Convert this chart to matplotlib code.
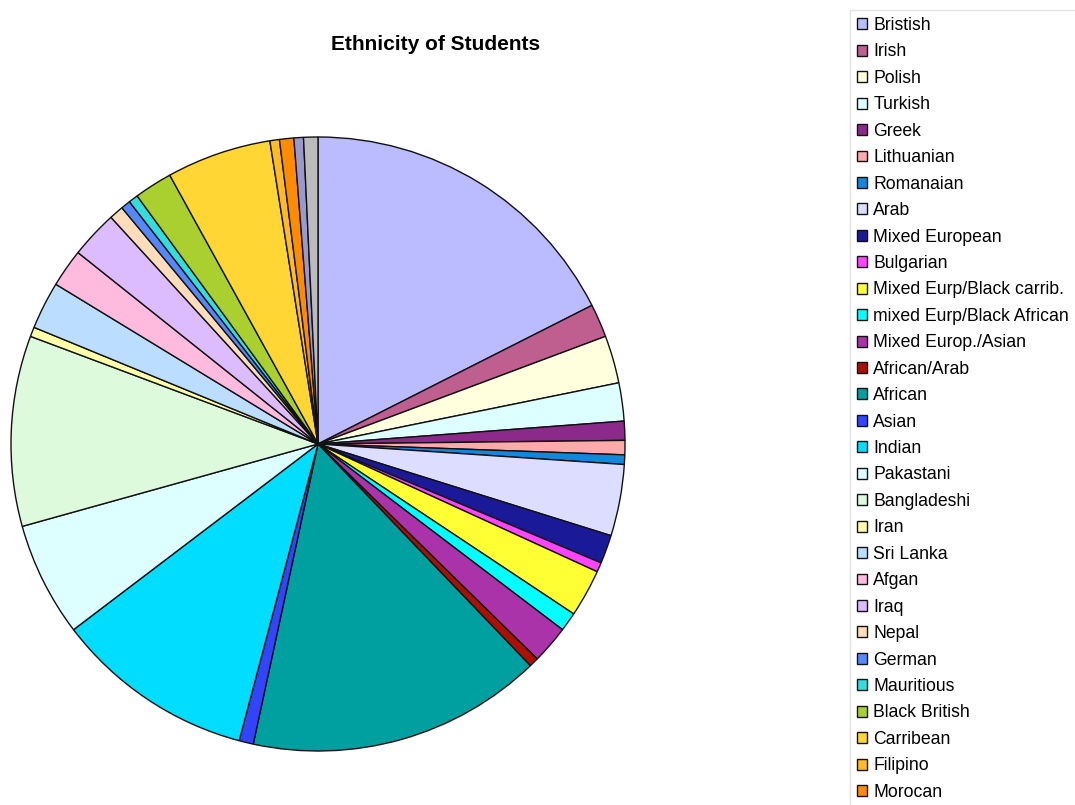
import matplotlib.pyplot as plt

plt.rcParams['font.family'] = ['Liberation Sans', 'DejaVu Sans']

# student counts per group (clockwise from 12 o'clock)
# the last two slices belong to groups whose legend rows are cut off in the original
groups = [
    'Bristish', 'Irish', 'Polish', 'Turkish', 'Greek', 'Lithuanian',
    'Romanaian', 'Arab', 'Mixed European', 'Bulgarian',
    'Mixed Eurp/Black carrib.', 'mixed Eurp/Black African',
    'Mixed Europ./Asian', 'African/Arab', 'African', 'Asian', 'Indian',
    'Pakastani', 'Bangladeshi', 'Iran', 'Sri Lanka', 'Afgan', 'Iraq',
    'Nepal', 'German', 'Mauritious', 'Black British', 'Carribean',
    'Filipino', 'Morocan', '', '',
]
students = [
    70, 7, 10, 8, 4, 3,
    2, 15, 6, 2,
    10, 4,
    8, 2, 62, 3, 42,
    24, 40, 2, 10, 8, 10,
    3, 2, 2, 8, 22,
    2, 3, 2, 3,
]
colours = [
    '#BBBBFF', '#BF5F8F', '#FFFFDD', '#DDFFFF', '#8B2A8B', '#FFAAAA',
    '#1188DD', '#DDDDFF', '#1A1A99', '#FF44FF',
    '#FFFF33', '#00FFFF',
    '#AA33AA', '#AA1100', '#00A0A0', '#3344FF', '#00DDFF',
    '#DDFFFF', '#DDFADD', '#FFFFAA', '#BBDDFF', '#FFBBDD', '#DDBBFF',
    '#FFDDBB', '#5588FF', '#33DDDD', '#AAD030', '#FFD633',
    '#FFBB22', '#FF8C00', '#9999CC', '#BBBBBB',
]

W, H = 1075, 805
fig = plt.figure(figsize=(W / 100, H / 100), dpi=100)

cx, cy, r = 318, 444, 307
ax = fig.add_axes([(cx - r) / W, (H - cy - r) / H, 2 * r / W, 2 * r / H])
wedges, _ = ax.pie(
    students, colors=colours, startangle=90, counterclock=False,
    wedgeprops=dict(edgecolor='#111111', linewidth=1.0, clip_on=False),
)
ax.set_xlim(-1, 1)
ax.set_ylim(-1, 1)
ax.set_aspect('equal')

fig.text(436 / W, 1 - 44 / H, 'Ethnicity of Students', ha='center', va='center',
         fontsize=15, fontweight='bold')

# only the rows that fit in the picture; the box runs off the bottom edge
shown = [i for i, g in enumerate(groups) if g]
leg = fig.legend(
    [wedges[i] for i in shown], [groups[i] for i in shown],
    loc='upper left', bbox_to_anchor=(850 / W, 1 - 10 / H),
    fontsize=12.7, frameon=True, fancybox=False, edgecolor='#DDDDDD',
    handlelength=0.58, handleheight=0.58, handletextpad=0.35,
    labelspacing=0.535, borderpad=0.4, borderaxespad=0,
)
leg.get_frame().set_linewidth(1.0)

fig.savefig('out.png', dpi=100)
